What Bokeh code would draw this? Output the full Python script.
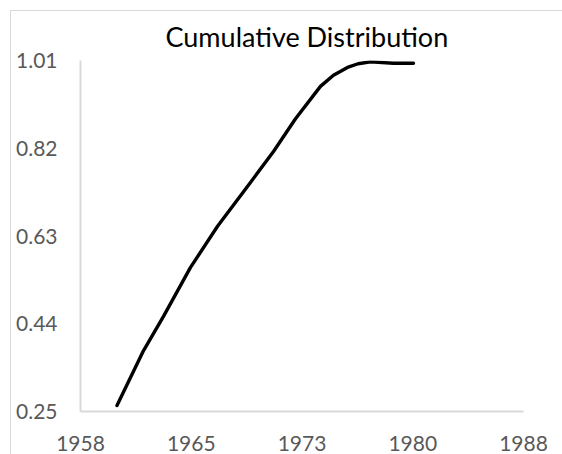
from bokeh.plotting import figure
from bokeh.models import FixedTicker, Range1d
from bokeh.embed import file_html
from bokeh.resources import INLINE

# Data
years = [1960.47, 1962.27, 1963.62, 1965.45, 1967.28, 1969.51, 1971.07, 1972.56,
         1974.25, 1975.13, 1976.08, 1976.8, 1977.64, 1979.2, 1980.55]
cum = [0.263, 0.382, 0.456, 0.562, 0.651, 0.746, 0.813, 0.884,
       0.954, 0.978, 0.995, 1.003, 1.007, 1.004, 1.004]

x_ticks = [1958, 1965.5, 1973, 1980.5, 1988]
x_tick_labels = ["1958", "1965", "1973", "1980", "1988"]
y_ticks = [0.25, 0.44, 0.63, 0.82, 1.01]
y_tick_labels = ["0.25", "0.44", "0.63", "0.82", "1.01"]

FONT = "Lato"

p = figure(width=562, height=454, output_backend="svg", toolbar_location=None,
           x_range=Range1d(1958, 1988), y_range=Range1d(0.25, 1.01),
           min_border_left=80, min_border_right=39, min_border_top=60,
           min_border_bottom=43, title="Cumulative Distribution")

p.title.text_font = FONT
p.title.text_font_size = "27px"
p.title.text_font_style = "normal"
p.title.text_color = "#000000"
p.title.align = "left"
p.title.offset = 85
p.title.standoff = 16

p.outline_line_color = None
p.grid.visible = False
p.background_fill_color = "white"
p.border_fill_alpha = 0
p.styles = {
    "background": "linear-gradient(#d9d9d9,#d9d9d9) 10px 10px / 1px 100% no-repeat, "
                  "linear-gradient(#d9d9d9,#d9d9d9) 10px 10px / 100% 1px no-repeat, white"
}

for ax in (p.xaxis[0], p.yaxis[0]):
    ax.axis_line_color = "#d9d9d9"
    ax.axis_line_width = 2
    ax.major_tick_line_color = None
    ax.minor_tick_line_color = None
    ax.major_label_text_font = FONT
    ax.major_label_text_font_size = "21px"
    ax.major_label_text_color = "#595959"

p.xaxis[0].ticker = FixedTicker(ticks=x_ticks)
p.xaxis[0].major_label_overrides = {t: l for t, l in zip(x_ticks, x_tick_labels)}
p.xaxis[0].major_label_standoff = 18
p.yaxis[0].ticker = FixedTicker(ticks=y_ticks)
p.yaxis[0].major_label_overrides = {t: l for t, l in zip(y_ticks, y_tick_labels)}
p.yaxis[0].major_label_standoff = 17

p.line(years, cum, line_color="black", line_width=3.4, line_join="round", line_cap="round")

open("out.html", "w").write(file_html(p, INLINE))
